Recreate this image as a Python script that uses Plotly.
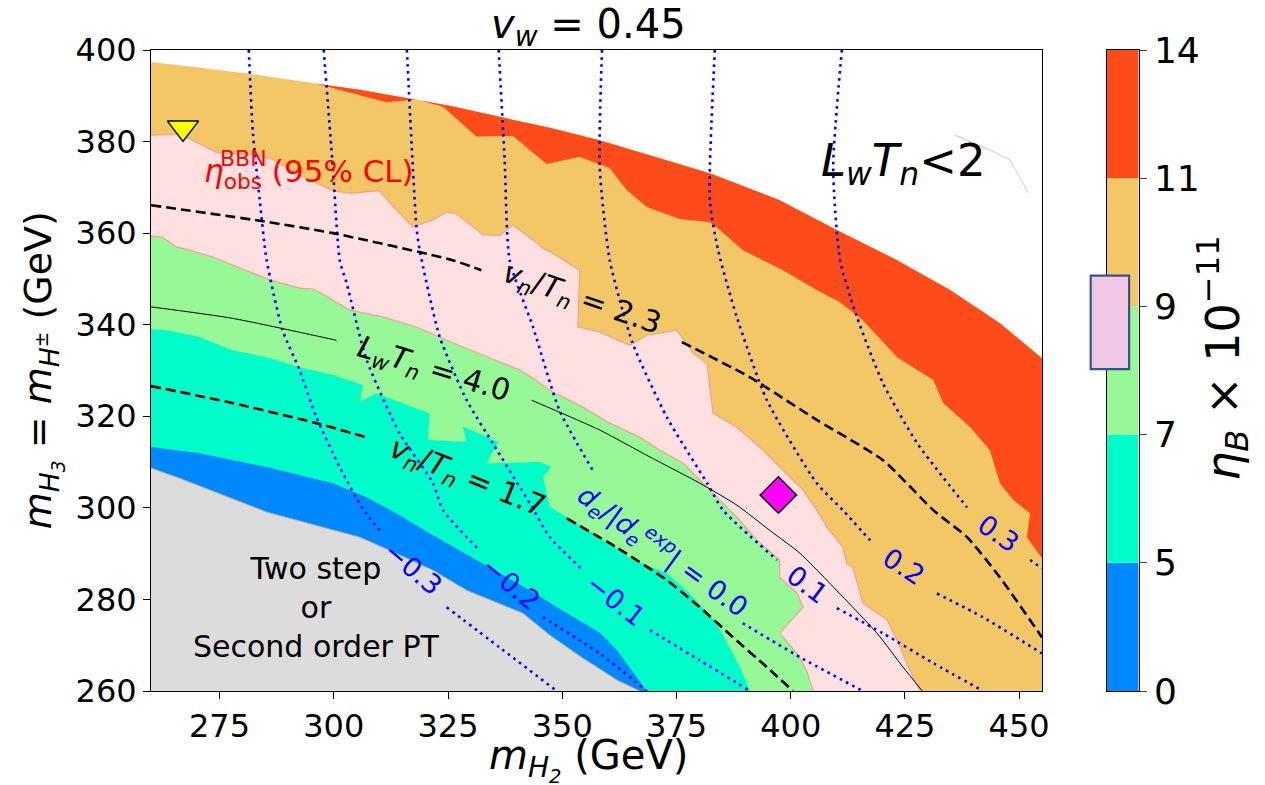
import numpy as np
import plotly.graph_objects as go

FONT = "DejaVu Sans"
X_RANGE = [260, 455]
Y_RANGE = [260, 400]
x_ticks = [275, 300, 325, 350, 375, 400, 425, 450]
y_ticks = [260, 280, 300, 320, 340, 360, 380, 400]

# colour levels (eta_B x 1e-11)
levels = [0, 5, 7, 9, 11, 14]
level_colors = ["#0088ff", "#00fcc8", "#96f896", "#f3c765", "#fe4b1a"]
gray_color = "#dcdcdc"
pink_color = "#ffe0e0"
bbn_band = [8.02, 9.48]

# ---- region boundaries (m_H2, m_H3) in GeV ----
outer_x = [260, 281.6, 305.7, 325.4, 347.3, 358.2, 382.3, 397.6, 410.1, 423.3, 434.9, 445.8, 455]
outer_y = [397.4, 394.8, 391.3, 387.8, 383.0, 380.3, 373.1, 367.2, 360.7, 354.1, 347.6, 340.3, 332.7]

red_orange_x = [296.0, 311.5, 318.1, 323.9, 331.2, 339.2, 346.6, 353.8, 360.4, 364.1, 368.5, 375.7,
                382.3, 384.5, 389.5, 398.3, 405.7, 410.8, 415.8, 423.3, 426.1, 431.2, 433.4, 439.3,
                443.6, 445.8, 448.7, 452.4, 451.7, 455]
red_orange_y = [392.7, 388.6, 389.2, 387.6, 381.1, 381.2, 375.1, 376.7, 374.2, 369.4, 365.7, 363.1,
                362.4, 360.7, 356.3, 351.9, 347.6, 344.9, 341.0, 332.9, 331.2, 327.9, 322.9, 317.6,
                312.6, 305.4, 301.7, 298.8, 293.6, 289.0]

pink_top_x = [260, 265.5, 268.4, 274.3, 282.3, 286.7, 292.5, 299.8, 303.5, 310.0, 313.0, 317.3, 321.7,
              324.7, 326.8, 332.7, 336.3, 339.2, 343.6, 345.8, 347.9, 353.8, 353.4, 358.2, 364.8, 368.5,
              375.1, 378.6, 381.7, 383.0, 388.2, 393.9, 397.6, 402.7, 405.7, 407.9, 411.4, 412.3, 413.6,
              415.8, 421.1, 423.3, 426.1, 428.3]
pink_top_y = [381.4, 381.6, 380.7, 377.6, 377.1, 376.1, 372.7, 369.3, 368.7, 369.3, 365.8, 361.4, 362.9,
              364.6, 364.3, 359.6, 359.5, 361.8, 358.5, 356.7, 355.6, 351.9, 339.5, 338.4, 335.5, 337.7,
              338.8, 333.8, 331.6, 320.7, 317.6, 312.6, 308.9, 303.9, 299.5, 295.8, 291.4, 287.9, 287.0,
              279.2, 275.5, 271.1, 264.5, 260]

green_top_x = [260, 262.5, 265.6, 268.4, 273.5, 280.9, 286.0, 292.5, 295.4, 296.9, 303.5, 310.7, 318.1,
               324.7, 332.6, 340.7, 343.6, 347.9, 354.5, 360.4, 367.0, 371.4, 376.4, 380.1, 384.5, 388.2,
               392.6, 397.6, 397.6, 401.4, 402.7, 397.6, 401.4, 403.5, 404.9]
green_top_y = [359.4, 359.1, 357.0, 356.3, 354.8, 351.9, 349.8, 348.0, 347.8, 347.1, 343.2, 341.7, 339.5,
               336.6, 333.4, 330.1, 328.3, 325.3, 322.0, 318.5, 315.4, 312.6, 309.8, 306.0, 301.7, 298.0,
               293.0, 288.6, 284.8, 281.4, 278.3, 272.6, 268.2, 264.5, 260]

teal_top_x = [260, 263.4, 270.6, 277.8, 285.3, 292.5, 299.8, 306.4, 305.7, 309.3, 321.0, 320.6, 329.0,
              328.3, 336.0, 333.4, 345.1, 347.6, 345.8, 347.3, 358.2, 365.5, 372.9, 377.9, 383.8, 386.7,
              388.9, 391.1]
teal_top_y = [339.0, 338.8, 337.3, 334.4, 332.9, 330.7, 329.0, 326.8, 323.2, 325.0, 320.6, 314.8, 314.4,
              317.7, 314.4, 309.7, 310.0, 308.9, 306.8, 300.2, 293.6, 288.6, 285.7, 281.3, 274.8, 269.5,
              265.2, 260]

blue_top_x = [260, 270.6, 285.3, 299.8, 307.2, 314.4, 321.7, 332.6, 342.9, 351.0, 358.2, 362.0, 368.5]
blue_top_y = [313.3, 311.9, 308.9, 305.4, 302.3, 298.4, 294.0, 287.9, 282.0, 277.0, 272.8, 268.9, 260]

gray_top_x = [260, 266.2, 285.3, 305.7, 310.7, 321.7, 329.1, 341.4, 347.3, 354.5, 362.0, 367.0]
gray_top_y = [308.7, 306.5, 299.1, 293.6, 291.4, 286.4, 282.0, 277.0, 272.2, 267.2, 262.4, 260]

# ---- contour lines (None = gap for inline label) ----
vt23_x = [260, 283.8, 299.8, 326.0, 332.3, None, 376.2, 391.1, 405.7, 420.2, 431.2, 438.6, 445.8, 455]
vt23_y = [366.1, 362.7, 360.0, 354.1, 351.9, None, 336.2, 328.5, 319.2, 310.4, 299.5, 293.6, 284.8, 271.7]

vt17_x = [260, 277.8, 296.2, 307.8, None, 351.0, 362.0, 372.9, 380.1, 387.4, 394.8, 400.5]
vt17_y = [326.6, 322.9, 318.5, 315.2, None, 297.7, 291.3, 284.2, 278.3, 271.7, 265.2, 260]

lw40_x = [260, 277.8, 300.6, None, 343.3, 358.2, 369.2, 380.1, 388.2, 395.4, 402.0, 407.9, 418.9, 424.6, 428.8]
lw40_y = [343.9, 341.4, 336.6, None, 323.5, 317.0, 311.1, 305.4, 300.6, 295.1, 290.1, 284.2, 272.6, 265.2, 260]

edm_lines = {
    "-0.3": ([281.4, 282.3, 283.8, 285.3, 288.8, 292.5, 296.2, 301.3, 306.3, 310.0, None, 324.7, 336.3, 348.8],
             [400, 381.9, 367.2, 354.1, 338.8, 330.1, 319.8, 308.9, 299.9, 295.1, None, 278.3, 269.5, 260]),
    "-0.2": ([297.8, 299.8, 301.3, 302.8, 307.2, 314.4, 321.7, 323.9, 331.9, None, 345.8, 358.2, 368.5],
             [400, 374.4, 354.1, 349.1, 332.3, 316.3, 305.4, 299.5, 290.7, None, 276.1, 268.2, 260]),
    "-0.1": ([316.0, 318.1, 318.8, 323.2, 329.1, 334.8, 342.9, 347.3, 354.5, None, 369.2, 380.1, 391.1],
             [400, 361.3, 356.3, 337.3, 323.5, 314.1, 301.0, 293.6, 286.4, None, 273.3, 266.7, 260]),
    "0.0": ([336.1, 337.4, 338.5, 343.6, 349.4, 356.7, None, 389.5, 402.0, 415.8],
            [400, 376.0, 354.1, 339.5, 321.3, 308.2, None, 274.8, 267.4, 260]),
    "0.1": ([358.7, 358.2, 360.4, 365.4, 372.9, 381.7, 385.2, 397.0, None, 410.1, 420.2, 431.2, 442.1],
            [400, 374.4, 354.1, 336.0, 319.8, 305.4, 299.5, 288.6, None, 278.1, 272.6, 266.1, 260]),
    "0.2": ([383.4, 382.3, 384.1, 388.2, 394.8, 405.7, 411.4, 417.4, None, 432.0, 442.1, 455],
            [400, 367.2, 356.3, 341.7, 323.5, 305.4, 299.5, 292.9, None, 281.3, 276.1, 268.2]),
    "0.3": ([411.2, 409.3, 410.8, 414.5, 420.2, 427.7, 438.6, None, 452.4, 455],
            [400, 374.4, 354.1, 341.7, 327.2, 314.1, 300.1, None, 288.6, 286.8]),
}

stray_pink_x = [436.0, 442.6]
stray_pink_y = [381.4, 378.6]
stray_blue_x = [442.6, 448.0, 452.0]
stray_blue_y = [378.6, 376.0, 368.8]

# benchmark points
tri_x, tri_y = [267.0], [383.0]
dia_x, dia_y = [397.3], [302.8]

# inline contour labels
lbl_text = ["<i>v<sub>n</sub></i>/<i>T<sub>n</sub></i> = 2.3",
            "<i>L<sub>w</sub>T<sub>n</sub></i> = 4.0",
            "<i>v<sub>n</sub></i>/<i>T<sub>n</sub></i> = 1.7"]
lbl_x = [354.3, 321.9, 329.3]
lbl_y = [345.4, 330.1, 306.5]
lbl_ang = [19, 17, 22]

edm_lbl_text = ["<i>d<sub>e</sub></i>/|<i>d<sub>e</sub><sup>exp</sup></i>| = 0.0",
                "\u22120.3", "\u22120.2", "\u22120.1", "0.1", "0.2", "0.3"]
edm_lbl_x = [372.0, 317.4, 338.8, 361.8, 403.6, 424.7, 445.5]
edm_lbl_y = [290.7, 286.7, 283.4, 279.8, 283.3, 287.1, 294.4]
edm_lbl_ang = [36, 40, 40, 38, 37, 33, 35]

fig = go.Figure()

def add_fill(xs, ys, color):
    fig.add_trace(go.Scatter(x=xs, y=ys, mode="lines", fill="toself", fillcolor=color,
                             line=dict(color=color, width=0),
                             hoverinfo="skip", showlegend=False))

x0, x1 = X_RANGE
y0, y1 = Y_RANGE
# orange everywhere below the outer boundary, then the red band on top of it
add_fill(outer_x + [x1, x0], outer_y + [y0, y0], level_colors[3])
outer_right_x = [v for v in outer_x if v > red_orange_x[0]]
outer_right_y = [outer_y[i] for i, v in enumerate(outer_x) if v > red_orange_x[0]]
add_fill([red_orange_x[0]] + outer_right_x + red_orange_x[::-1],
         [red_orange_y[0]] + outer_right_y + red_orange_y[::-1], level_colors[4])
add_fill(pink_top_x + [x0], pink_top_y + [y0], pink_color)
add_fill(green_top_x + [x0], green_top_y + [y0], level_colors[2])
add_fill(teal_top_x + [x0], teal_top_y + [y0], level_colors[1])
add_fill(blue_top_x + [x0], blue_top_y + [y0], level_colors[0])
add_fill(gray_top_x + [x0], gray_top_y + [y0], gray_color)

def add_line(xs, ys, color, width, dash="solid", shape="spline"):
    fig.add_trace(go.Scatter(x=xs, y=ys, mode="lines",
                             line=dict(color=color, width=width, dash=dash, shape=shape, smoothing=0.6),
                             connectgaps=False, hoverinfo="skip", showlegend=False))

# boundaries of BBN region and gray region
add_line(pink_top_x, pink_top_y, "#f5a08c", 1.2, shape="linear")
add_line(green_top_x, green_top_y, "#f5a08c", 1.2, shape="linear")
add_line(gray_top_x, gray_top_y, "#a8a8a8", 1.0, shape="linear")
add_line(stray_pink_x, stray_pink_y, "#f5b0a0", 1.0, shape="linear")
add_line(stray_blue_x, stray_blue_y, "#a8d8f0", 1.0, shape="linear")

for k, (xs, ys) in edm_lines.items():
    add_line(xs, ys, "#0000ff", 2.6, dash="2.6px,4.4px")

add_line(vt23_x, vt23_y, "black", 2.6, dash="10px,5px")
add_line(vt17_x, vt17_y, "black", 2.6, dash="10px,5px")
add_line(lw40_x, lw40_y, "black", 1.0)

fig.add_trace(go.Scatter(x=tri_x, y=tri_y, mode="markers",
                         marker=dict(symbol="triangle-down", size=27, color="#ffff00",
                                     line=dict(color="black", width=1.5)),
                         hoverinfo="skip", showlegend=False))
fig.add_trace(go.Scatter(x=dia_x, y=dia_y, mode="markers",
                         marker=dict(symbol="diamond", size=28, color="#ff00ff",
                                     line=dict(color="black", width=1.5)),
                         hoverinfo="skip", showlegend=False))

# colour bar built on a second axis
for i in range(len(level_colors)):
    fig.add_trace(go.Bar(x=[0.5], y=[1], base=[i], width=[1], marker=dict(color=level_colors[i], line=dict(width=0)),
                         xaxis="x2", yaxis="y2", hoverinfo="skip", showlegend=False))

idx = np.interp(bbn_band, levels, np.arange(len(levels)))
n_lev = len(levels) - 1

annotations = []
for t, x, y, a in zip(lbl_text, lbl_x, lbl_y, lbl_ang):
    annotations.append(dict(text=t, x=x, y=y, xref="x", yref="y", showarrow=False, textangle=a,
                            font=dict(size=30, color="black", family=FONT)))
for t, x, y, a in zip(edm_lbl_text, edm_lbl_x, edm_lbl_y, edm_lbl_ang):
    annotations.append(dict(text=t, x=x, y=y, xref="x", yref="y", showarrow=False, textangle=a,
                            font=dict(size=27, color="#0000ff", family=FONT)))

annotations += [
    dict(text="<i>\u03b7</i><sub>obs</sub> (95% CL)", x=294.5, y=373.0, xref="x", yref="y", showarrow=False,
         font=dict(size=31, color="#ff0000", family=FONT)),
    dict(text="BBN", x=280.3, y=376.3, xref="x", yref="y", showarrow=False,
         font=dict(size=22, color="#ff0000", family=FONT)),
    dict(text="<i>L<sub>w</sub>T<sub>n</sub></i><2", x=424.6, y=375.3, xref="x", yref="y", showarrow=False,
         font=dict(size=45, color="black", family=FONT)),
    dict(text="Two step<br>or<br>Second order PT", x=296.3, y=278.3, xref="x", yref="y", showarrow=False,
         font=dict(size=30, color="black", family=FONT)),
    dict(text="<i>v<sub>w</sub></i> = 0.45", x=0.4, y=1.036, xref="paper", yref="paper", xanchor="center",
         yanchor="middle", showarrow=False, font=dict(size=40, color="black", family=FONT)),
    dict(text="<i>m<sub>H<sub>2</sub></sub></i> (GeV)", x=0.4, y=-0.108, xref="paper", yref="paper",
         xanchor="center", yanchor="middle", showarrow=False, font=dict(size=40, color="black", family=FONT)),
    dict(text="<i>m<sub>H<sub>3</sub></sub></i> = <i>m<sub>H<sup>\u00b1</sup></sub></i> (GeV)", x=-0.099, y=0.5,
         xref="paper", yref="paper", xanchor="center", yanchor="middle", textangle=-90, showarrow=False,
         font=dict(size=38, color="black", family=FONT)),
    dict(text="<i>\u03b7<sub>B</sub></i> \u00d7 10<sup>\u221211</sup>", x=0.98, y=0.52,
         xref="paper", yref="paper", xanchor="center", yanchor="middle", textangle=-90, showarrow=False,
         font=dict(size=46, color="black", family=FONT)),
]

shapes = [dict(type="rect", xref="x2 domain", yref="y2 domain", x0=-0.5, x1=0.7,
               y0=idx[0] / n_lev, y1=idx[1] / n_lev, fillcolor="#f0c8e6",
               line=dict(color="#34558b", width=2.2), layer="above")]

axis_common = dict(showgrid=False, zeroline=False, showline=True, linecolor="black", linewidth=1,
                   mirror=True, ticks="outside", ticklen=7, tickwidth=1, tickcolor="black",
                   tickfont=dict(size=32, color="black", family=FONT))

fig.update_layout(
    width=1265, height=785, margin=dict(l=151, r=20, t=50, b=94),
    paper_bgcolor="white", plot_bgcolor="white", barmode="overlay",
    xaxis=dict(range=X_RANGE, domain=[0, 0.81444], tickvals=x_ticks, **axis_common),
    yaxis=dict(range=Y_RANGE, tickvals=y_ticks, **axis_common),
    xaxis2=dict(domain=[0.87358, 0.90283], range=[0, 1], anchor="y2", showgrid=False, zeroline=False,
                showline=True, linecolor="black", linewidth=1, mirror=True, ticks="",
                showticklabels=False),
    yaxis2=dict(range=[0, n_lev], anchor="x2", side="right", showgrid=False, zeroline=False,
                showline=True, linecolor="black", linewidth=1, mirror=True, ticks="outside",
                ticklen=7, tickwidth=1, tickvals=list(range(len(levels))),
                ticktext=[str(v) for v in levels], tickfont=dict(size=36, color="black", family=FONT)),
    annotations=annotations, shapes=shapes,
    font=dict(family=FONT),
)

fig.write_html("out.html", config={"displayModeBar": False},
               post_script="document.body.style.margin='0px';document.body.style.overflow='hidden';")
